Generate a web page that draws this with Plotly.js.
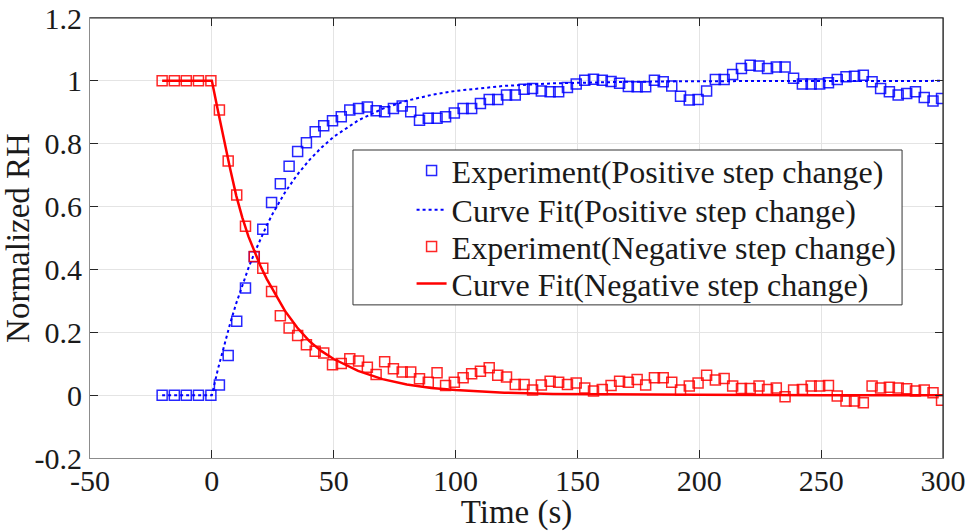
<!DOCTYPE html>
<html>
<head>
<meta charset="utf-8">
<script src="https://cdn.plot.ly/plotly-3.0.1.min.js"></script>
<style>html,body{margin:0;padding:0;background:#fff;}#chart{width:970px;height:531px;}</style>
</head>
<body>
<div id="chart"></div>
<script>
// ---- data ----
const timeExp = [-20.4,-15.4,-10.5,-5.5,-0.4,3.1,6.7,10.2,13.8,17.4,20.9,24.5,28.1,31.7,35.2,38.8,42.4,45.9,49.5,53.1,56.6,60.2,63.8,67.4,70.9,74.5,78.1,81.6,85.2,88.8,92.4,95.9,99.5,103.1,106.6,110.2,113.8,117.3,120.9,124.5,128.1,131.6,135.2,138.8,142.3,145.9,149.5,153.0,156.6,160.2,163.8,167.3,170.9,174.5,178.0,181.6,185.2,188.7,192.3,195.9,199.5,203.0,206.6,210.2,213.7,217.3,220.9,224.5,228.0,231.6,235.2,238.7,242.3,245.9,249.4,253.0,256.6,260.2,263.7,267.3,270.9,274.4,278.0,281.6,285.1,288.7,292.3,295.9,299.4];

const posExp = [0,0,0,0,0,
  0.032,0.126,0.235,0.341,0.440,0.528,0.613,0.673,0.728,0.775,
  0.803,0.838,0.857,0.873,0.886,0.907,0.912,0.917,0.905,0.902,
  0.912,0.920,0.902,0.875,0.881,0.881,0.886,0.898,0.912,0.912,
  0.928,0.941,0.941,0.955,0.955,0.973,0.976,0.968,0.965,0.965,
  0.979,0.990,1.002,1.005,1.002,0.998,0.992,0.982,0.981,0.981,
  1.002,0.997,0.984,0.951,0.939,0.941,0.968,1.004,1.004,1.020,
  1.039,1.050,1.047,1.039,1.044,1.044,1.008,0.990,0.990,0.990,
  0.994,1.004,1.013,1.015,1.018,0.997,0.976,0.965,0.955,0.960,
  0.965,0.947,0.936,0.944];

const negExp = [1,1,1,1,1,
  0.907,0.745,0.637,0.537,0.441,0.404,0.330,0.253,0.214,0.190,
  0.160,0.140,0.134,0.097,0.101,0.116,0.109,0.089,0.066,0.106,
  0.084,0.074,0.074,0.052,0.041,0.071,0.031,0.041,0.055,0.068,
  0.076,0.087,0.063,0.058,0.034,0.034,0.016,0.032,0.044,0.041,
  0.034,0.039,0.023,0.013,0.018,0.031,0.044,0.041,0.050,0.032,
  0.055,0.055,0.041,0.016,0.029,0.039,0.063,0.048,0.053,0.029,
  0.021,0.021,0.029,0.018,0.023,-0.005,0.016,0.018,0.029,0.029,
  0.031,-0.003,-0.019,-0.019,-0.024,0.029,0.023,0.025,0.023,0.020,
  0.013,0.016,0.008,-0.016];

const fitTime = [-20.4,0,2.5,5,7.5,10,12.5,15,17.5,20,22.5,25,30,35,40,45,50,60,70,80,90,100,120,140,170,200,250,300];
const posFit  = [0,0,0.083,0.158,0.228,0.292,0.350,0.404,0.453,0.498,0.540,0.578,0.645,0.701,0.748,0.788,0.822,0.874,0.911,0.937,0.955,0.968,0.984,0.992,0.997,0.999,1,1];
const negFit  = [1,1,0.905,0.810,0.720,0.635,0.565,0.505,0.455,0.410,0.370,0.335,0.268,0.215,0.172,0.140,0.115,0.077,0.051,0.034,0.023,0.016,0.008,0.004,0.002,0.001,0,0];

const seriesNames = ['Experiment(Positive step change)','Curve Fit(Positive step change)','Experiment(Negative step change)','Curve Fit(Negative step change)'];

const xTickVals = [-50,0,50,100,150,200,250,300];
const xTickText = ['-50','0','50','100','150','200','250','300'];
const yTickVals = [-0.2,0,0.2,0.4,0.6,0.8,1,1.2];
const yTickText = ['-0.2','0','0.2','0.4','0.6','0.8','1','1.2'];

const FONT = 'Liberation Serif, Times New Roman, serif';
const TXT = '#1a1a1a';

const traces = [
  {x: timeExp, y: posExp, name: seriesNames[0], type: 'scatter', mode: 'markers', legend: 'legend',
   marker: {symbol: 'square-open', size: 10, color: 'rgba(0,0,255,0.85)', line: {width: 1.5, color: 'rgba(0,0,255,0.85)'}}},
  {x: fitTime, y: posFit, name: seriesNames[1], type: 'scatter', mode: 'lines', legend: 'legend2',
   line: {color: '#0000ff', width: 2, dash: 'dot'}},
  {x: timeExp, y: negExp, name: seriesNames[2], type: 'scatter', mode: 'markers', legend: 'legend3',
   marker: {symbol: 'square-open', size: 10, color: 'rgba(255,0,0,0.85)', line: {width: 1.5, color: 'rgba(255,0,0,0.85)'}}},
  {x: fitTime, y: negFit, name: seriesNames[3], type: 'scatter', mode: 'lines', legend: 'legend4',
   line: {color: '#ff0000', width: 2.5}}
];

const axisCommon = {
  ticks: 'inside', ticklen: 8, tickcolor: '#262626', tickwidth: 1,
  showline: true, linecolor: '#8c8c8c', linewidth: 1, mirror: 'allticks',
  showgrid: true, gridcolor: '#e4e4e4', gridwidth: 1, zeroline: false,
  tickfont: {family: FONT, size: 30, color: TXT}, automargin: false
};

function legendAt(yRow) {
  return {
    x: 0.377, y: yRow, xanchor: 'left', yanchor: 'middle',
    bgcolor: 'rgba(0,0,0,0)', borderwidth: 0,
    font: {family: FONT, size: 32, color: TXT}
  };
}

const layout = {
  width: 970, height: 531,
  margin: {l: 90, r: 27, t: 18, b: 73},
  paper_bgcolor: '#fff', plot_bgcolor: '#fff',
  font: {family: FONT, color: TXT},
  showlegend: true,
  xaxis: Object.assign({}, axisCommon, {
    range: [-50, 300], tickmode: 'array', tickvals: xTickVals, ticktext: xTickText,
    ticklabelstandoff: -4,
    title: {text: 'Time (s)', font: {family: FONT, size: 33, color: TXT}, standoff: 3}
  }),
  yaxis: Object.assign({}, axisCommon, {
    range: [-0.2, 1.2], tickmode: 'array', tickvals: yTickVals, ticktext: yTickText,
    ticklabelstandoff: 1,
    title: {text: 'Normalized RH', font: {family: FONT, size: 33, color: TXT}, standoff: 2}
  }),
  shapes: [
    {type: 'rect', xref: 'paper', yref: 'paper', layer: 'above',
     x0: 0.3083, x1: 0.952, y0: 0.348, y1: 0.700,
     fillcolor: '#fff', line: {color: '#333', width: 1}},
    {type: 'line', xref: 'paper', yref: 'paper', layer: 'above',
     x0: 0, x1: 1, y0: 1, y1: 1, line: {color: '#262626', width: 1.2}},
    {type: 'line', xref: 'paper', yref: 'paper', layer: 'above',
     x0: 1, x1: 1, y0: 0, y1: 1, line: {color: '#262626', width: 1.2}}
  ],
  legend: legendAt(0.653),
  legend2: legendAt(0.564),
  legend3: legendAt(0.480),
  legend4: legendAt(0.396)
};

Plotly.newPlot('chart', traces, layout, {displayModeBar: false, staticPlot: true});
</script>
</body>
</html>
